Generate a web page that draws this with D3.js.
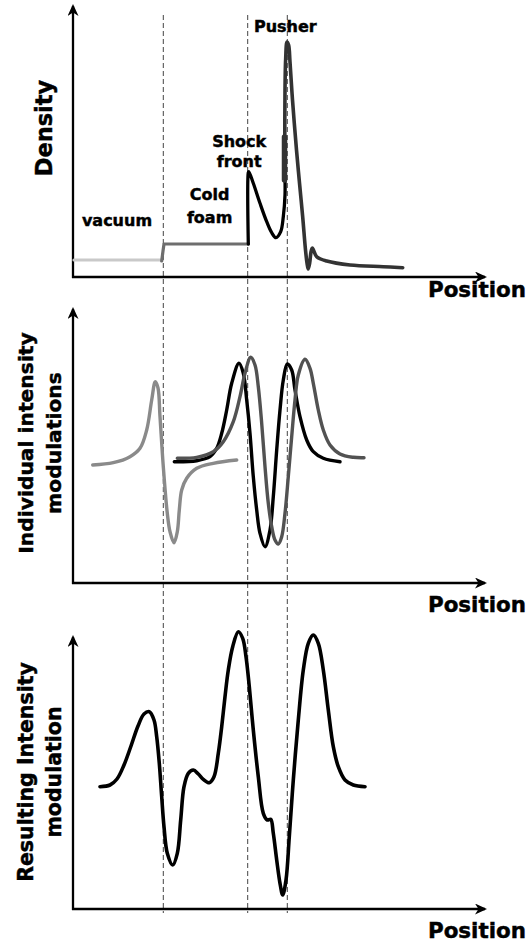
<!DOCTYPE html>
<html>
<head>
<meta charset="utf-8">
<script src="https://cdn.jsdelivr.net/npm/d3@7"></script>
<style>
html,body{margin:0;padding:0;background:#fff;}
svg{display:block;}
text{font-family:"DejaVu Sans",sans-serif;font-weight:bold;fill:#000;stroke:#000;stroke-width:0.45px;}
</style>
</head>
<body>
<svg id="chart" width="528" height="942"></svg>
<script>
// ---------- DATA (position units along x, value units per panel) ----------
const positionBoundaries = [9.03, 17.47, 21.43];

// Panel 1: density profile
const densityVacuum = [[0.1,1.7],[8.87,1.7]];
const densityFoam   = [[8.87,1.6],[9.0,2.6],[9.1,3.3],[17.55,3.3]];
const densityShock  = [[17.53,3.3],[17.53,10.43],[17.58,10.53],[18.03,9.37],[18.7,7.37],[19.37,5.53],[19.87,4.43],[20.3,3.93],[20.77,4.53],[21.03,6.03],[21.2,8.2],[21.2,9.7]];
const densityPusher = [[21.2,9.7],[21.18,14.0],[21.2,18.7],[21.27,21.9],[21.4,23.5],[21.56,23.2],[21.7,21.5],[21.95,17.7],[22.35,12.7],[22.65,9.4],[22.97,6.0],[23.25,2.7],[23.4,1.4],[23.52,0.8],[23.67,1.4],[23.8,2.5],[23.93,2.9],[24.05,2.7],[24.37,2.03],[25.37,1.6],[27.7,1.2],[31.03,1.03],[32.97,0.93]];
const densityPusherEdge = [[21.15,9.7],[21.15,14.0]];

// Panel 2: individual intensity modulations
const modVacuumEdge = [[1.97,-0.3],[4.03,-0.07],[5.7,0.53],[6.7,1.37],[7.37,3.2],[7.87,6.2],[8.23,8.03],[8.5,7.4],[8.7,4.53],[9.03,-0.47],[9.43,-5.13],[9.7,-6.97],[10.1,-8.07],[10.43,-6.97],[10.63,-4.8],[10.87,-2.8],[11.37,-1.63],[12.37,-0.63],[14.03,-0.13],[16.37,0.2]];
const modShockBlack = [[10.13,0.03],[12.37,0.13],[13.7,0.53],[14.37,1.37],[14.87,2.87],[15.37,5.2],[15.87,7.87],[16.6,9.87],[17.03,8.87],[17.37,6.2],[17.7,2.87],[18.03,-1.47],[18.37,-4.8],[18.7,-7.13],[19.2,-8.47],[19.7,-6.8],[20.03,-3.47],[20.37,1.2],[20.7,5.2],[21.03,8.2],[21.43,9.8],[21.87,9.2],[22.2,7.2],[22.7,4.53],[23.37,2.2],[24.03,1.03],[25.03,0.37],[26.7,0.03]];
const modShockGray  = [[10.43,0.37],[12.37,0.47],[14.03,1.03],[15.03,2.03],[16.03,4.03],[16.7,6.53],[17.2,8.87],[17.77,10.47],[18.2,9.7],[18.53,7.53],[18.87,3.87],[19.2,-0.47],[19.53,-4.13],[19.87,-6.47],[20.2,-7.8],[20.53,-8.2],[20.87,-7.47],[21.2,-5.13],[21.53,-1.47],[21.87,2.53],[22.2,6.2],[22.53,8.7],[23.2,10.27],[23.7,9.37],[24.03,7.87],[24.53,5.2],[25.03,3.2],[25.7,1.7],[26.7,0.8],[28.03,0.47],[29.1,0.43]];

// Panel 3: resulting intensity modulation
const modResult = [[2.7,-0.07],[3.7,0.1],[4.4,0.7],[5.1,2.1],[5.8,4.0],[6.5,6.0],[7.1,7.2],[7.63,7.43],[8.1,6.6],[8.37,4.93],[8.63,2.27],[8.87,-1.07],[9.1,-4.07],[9.43,-6.73],[9.97,-7.9],[10.43,-6.73],[10.77,-3.4],[11.1,-0.07],[11.53,1.27],[12.03,1.6],[12.53,1.2],[13.03,0.67],[13.63,0.33],[14.1,0.93],[14.53,3.27],[14.87,5.93],[15.2,8.93],[15.53,11.6],[15.97,13.93],[16.53,15.43],[16.97,14.77],[17.3,12.93],[17.63,9.93],[18.03,5.6],[18.53,0.93],[19.03,-2.73],[19.43,-3.4],[19.77,-3.33],[20.03,-4.73],[20.37,-7.4],[20.7,-9.73],[20.97,-10.9],[21.3,-9.4],[21.63,-5.07],[22.03,0.6],[22.53,6.6],[23.03,11.6],[23.53,14.27],[24.03,15.1],[24.53,14.27],[25.03,11.6],[25.53,7.6],[26.03,3.93],[26.53,1.93],[27.2,0.6],[28.03,0.1],[29.2,-0.07]];

const xAxisTitle = "Position";
const yTitles = [["Density"], ["Individual intensity", "modulations"], ["Resulting Intensity", "modulation"]];
const regionLabels = [["vacuum"], ["Cold", "foam"], ["Shock", "front"], ["Pusher"]];

// ---------- LAYOUT ----------
const svg = d3.select("#chart");
const x = d3.scaleLinear().domain([0, 41.4]).range([73, 487]);
const panels = [
  {y: d3.scaleLinear().domain([0, 27.3]).range([277, 4]), posBase: 297, title: {bx:[52], cy:128, size:22.5}},
  {y: d3.scaleLinear().domain([-12.1, 15.5]).range([583, 307]), posBase: 612, title: {bx:[33,61], cy:443, size:20.3}},
  {y: d3.scaleLinear().domain([-12.3, 15.1]).range([909, 635]), posBase: 938, title: {bx:[33,61], cy:772, size:20.5}}
];

const defs = svg.append("defs");
defs.append("marker").attr("id","arrow")
  .attr("viewBox","0 0 12 11").attr("refX",10).attr("refY",5.5)
  .attr("markerWidth",12).attr("markerHeight",11)
  .attr("markerUnits","userSpaceOnUse").attr("orient","auto")
  .append("path").attr("d","M0,0L12,5.5L0,11L3.5,5.5Z").attr("fill","#000");

// dashed boundary lines spanning all panels
svg.append("g").selectAll("line").data(positionBoundaries).join("line")
  .attr("x1", d => x(d)).attr("x2", d => x(d))
  .attr("y1", 15).attr("y2", 913)
  .attr("stroke", "#444").attr("stroke-width", 1)
  .attr("stroke-dasharray", "5,3");

// axes
panels.forEach((p, i) => {
  const g = svg.append("g");
  const yr = p.y.range();
  const xr = x.range();
  g.append("line").attr("x1", xr[0]).attr("x2", xr[0])
    .attr("y1", yr[0] + 1).attr("y2", yr[1] + 2)
    .attr("stroke","#000").attr("stroke-width",2.3).attr("marker-end","url(#arrow)");
  g.append("line").attr("x1", xr[0] - 1).attr("x2", xr[1] - 2)
    .attr("y1", yr[0]).attr("y2", yr[0])
    .attr("stroke","#000").attr("stroke-width",2.3).attr("marker-end","url(#arrow)");
  g.append("text").attr("x", 428).attr("y", p.posBase)
    .attr("font-size", 21.4).text(xAxisTitle);
  yTitles[i].forEach((t, k) => {
    g.append("text")
      .attr("transform", `translate(${p.title.bx[k]},${p.title.cy}) rotate(-90)`)
      .attr("text-anchor","middle").attr("font-size", p.title.size).text(t);
  });
});

function drawSeries(panel, data, color, width, curve) {
  const line = d3.line()
    .x(d => x(d[0])).y(d => panel.y(d[1]))
    .curve(curve || d3.curveCatmullRom.alpha(0.5));
  svg.append("path").datum(data).attr("d", line)
    .attr("fill","none").attr("stroke", color).attr("stroke-width", width)
    .attr("stroke-linejoin","round").attr("stroke-linecap","round");
}

// Panel 1
const P1 = panels[0];
drawSeries(P1, densityVacuum, "#c9c9c9", 3.2, d3.curveLinear);
drawSeries(P1, densityFoam, "#6e6e6e", 3.2, d3.curveLinear);
drawSeries(P1, densityShock, "#000", 3.3);
drawSeries(P1, densityPusher, "#333", 3.6);
drawSeries(P1, densityPusherEdge, "#333", 5.5, d3.curveLinear);

// Panel 2
const P2 = panels[1];
drawSeries(P2, modVacuumEdge, "#8a8a8a", 3.4);
drawSeries(P2, modShockBlack, "#000", 3.4);
drawSeries(P2, modShockGray, "#525252", 3.4);

// Panel 3
const P3 = panels[2];
drawSeries(P3, modResult, "#000", 3.6);

// region labels in panel 1
const labelPos = [
  {cx: 117, base: [226]},
  {cx: 209.6, base: [200, 222.7]},
  {cx: 239.2, base: [146.7, 167.3]},
  {cx: 285.3, base: [31.7]}
];
regionLabels.forEach((lines, i) => {
  lines.forEach((t, k) => {
    svg.append("text").attr("x", labelPos[i].cx).attr("y", labelPos[i].base[k])
      .attr("text-anchor","middle").attr("font-size", 16).text(t);
  });
});
</script>
</body>
</html>
